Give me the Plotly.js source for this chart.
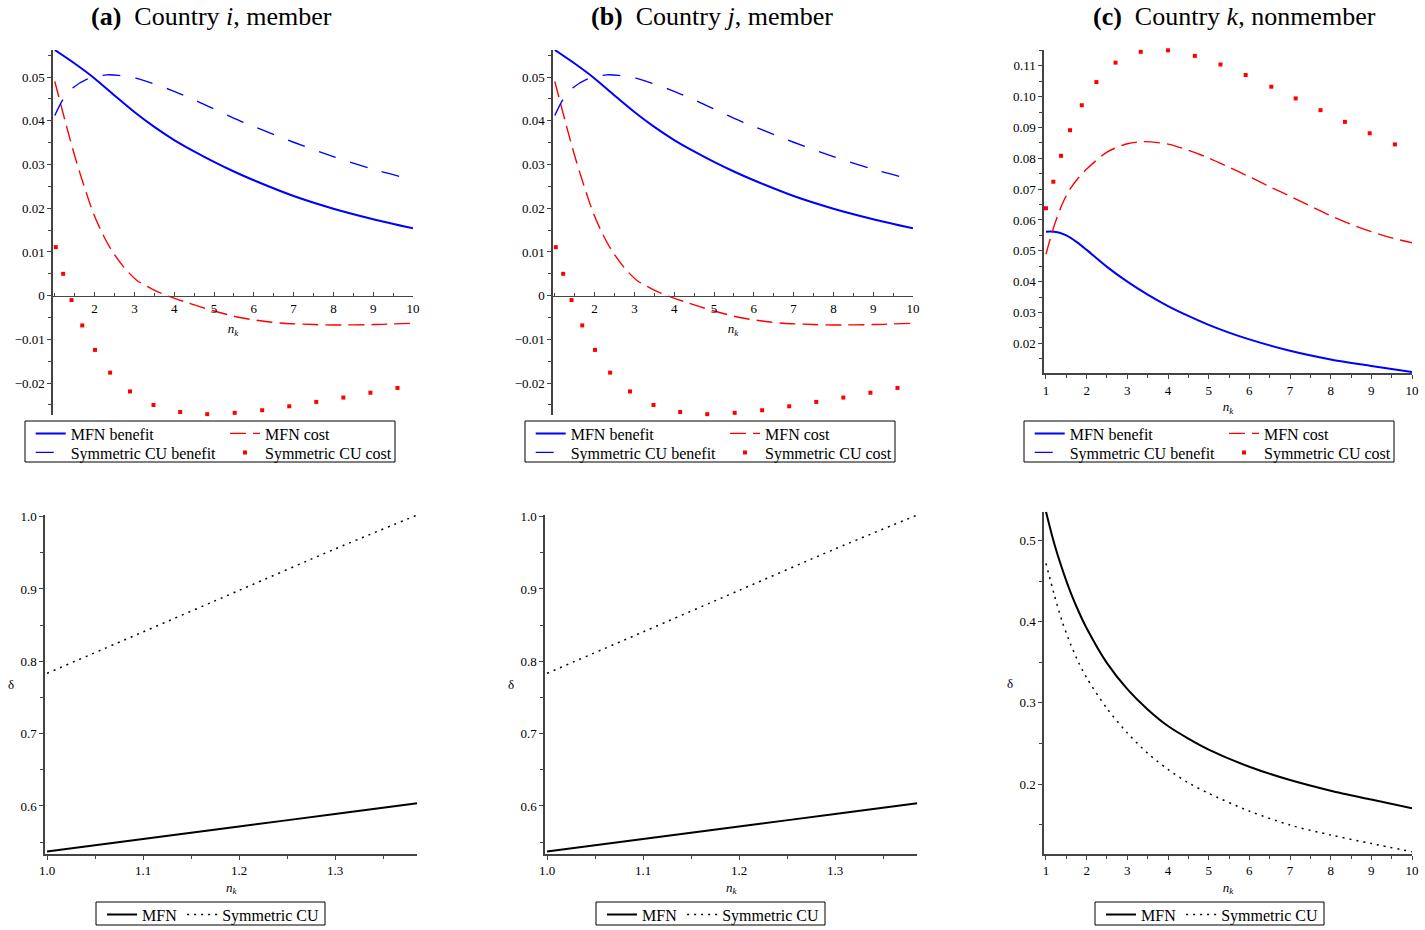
<!DOCTYPE html>
<html><head><meta charset="utf-8">
<script src="https://cdn.plot.ly/plotly-3.0.1.min.js"></script>
<style>html,body{margin:0;padding:0;background:#fff;} #chart{width:1425px;height:930px;}</style>
</head><body><div id="chart"></div>
<script>
// ---------------- DATA ----------------
// Panels (a) and (b): member countries (identical curves)
const mfnBenefitMemberX = [1, 1.5, 2, 2.5, 3, 3.5, 4, 4.5, 5, 5.5, 6, 7, 8, 9, 10];
const mfnBenefitMemberY = [0.0562, 0.0531, 0.0497, 0.0458, 0.0420, 0.0386, 0.0356, 0.0330, 0.0306, 0.0284, 0.0264, 0.0228, 0.0199, 0.0175, 0.0154];

const symBenefitMemberX = [1, 1.2, 1.45, 1.8, 2.3, 2.6, 3.1, 3.9, 4.6, 5.6, 6, 7, 8, 9, 10];
const symBenefitMemberY = [0.0412, 0.0448, 0.0475, 0.0495, 0.0505, 0.0504, 0.0496, 0.0471, 0.0444, 0.0402, 0.0387, 0.0351, 0.0318, 0.0289, 0.0265];

const mfnCostMemberX = [1, 1.126, 1.25, 1.377, 1.5, 1.63, 1.8, 1.96, 2.17, 2.42, 2.72, 3.05, 3.47, 3.85, 4.3, 4.64, 5.0, 5.65, 6.3, 6.74, 7.5, 8, 9, 10];
const mfnCostMemberY = [0.0490, 0.0446, 0.0403, 0.0360, 0.0320, 0.0281, 0.0233, 0.0191, 0.0147, 0.0105, 0.0067, 0.0036, 0.0014, -0.0001, -0.0015, -0.0025, -0.0035, -0.0050, -0.0059, -0.0063, -0.0066, -0.0067, -0.0066, -0.0063];

const symCostMemberX = [1.025, 1.21, 1.42, 1.69, 2.01, 2.39, 2.89, 3.48, 4.15, 4.83, 5.52, 6.21, 6.89, 7.57, 8.25, 8.93, 9.61];
const symCostMemberY = [0.0111, 0.0050, -0.0010, -0.0068, -0.0124, -0.0176, -0.0219, -0.0250, -0.0266, -0.0271, -0.0268, -0.0262, -0.0253, -0.0243, -0.0233, -0.0222, -0.0211];

// Panel (c): nonmember
const mfnBenefitNonX = [1, 1.1, 1.2, 1.35, 1.5, 1.75, 2, 2.5, 3, 3.5, 4, 4.5, 5, 5.5, 6, 7, 8, 9, 10];
const mfnBenefitNonY = [0.0562, 0.0563, 0.0562, 0.0558, 0.0550, 0.0529, 0.0503, 0.0448, 0.0400, 0.0358, 0.0321, 0.0289, 0.0260, 0.0235, 0.0213, 0.0176, 0.0148, 0.0127, 0.0107];

const symBenefitNonX = [null];   // not visible in the plotted range
const symBenefitNonY = [null];

const mfnCostNonX = [1, 1.1, 1.22, 1.4, 1.59, 1.8, 2, 2.5, 3, 3.4, 4, 4.5, 5, 5.5, 6, 6.5, 7, 7.5, 8, 8.5, 9, 9.5, 10];
const mfnCostNonY = [0.0489, 0.0537, 0.0589, 0.0652, 0.0700, 0.0737, 0.0765, 0.0820, 0.0847, 0.0854, 0.0846, 0.0826, 0.0801, 0.0771, 0.0740, 0.0708, 0.0677, 0.0645, 0.0614, 0.0586, 0.0562, 0.0542, 0.0526];

const symCostNonX = [1.0, 1.18, 1.37, 1.59, 1.88, 2.24, 2.71, 3.33, 4.0, 4.66, 5.29, 5.91, 6.54, 7.14, 7.75, 8.35, 8.96, 9.58];
const symCostNonY = [0.0638, 0.0724, 0.0808, 0.0891, 0.0972, 0.1047, 0.1110, 0.1145, 0.1150, 0.1132, 0.1104, 0.1070, 0.1032, 0.0994, 0.0956, 0.0918, 0.0881, 0.0845];

// Bottom row: critical discount factor delta
const deltaMemberX = [1.0, 1.1, 1.2, 1.3, 1.3857];
const deltaMfnMemberY = [0.5369, 0.5542, 0.5716, 0.5889, 0.6037];
const deltaSymMemberY = [0.7834, 0.8406, 0.8980, 0.9553, 1.0023];

const deltaNonX = [1, 1.2, 1.4, 1.6, 1.8, 2, 2.5, 3, 3.5, 4, 4.5, 5, 6, 7, 8, 9, 10];
const deltaMfnNonY = [0.5358, 0.4970, 0.4650, 0.4370, 0.4130, 0.3920, 0.3490, 0.3170, 0.2920, 0.2715, 0.2560, 0.2425, 0.2213, 0.2049, 0.1918, 0.1808, 0.1700];
const deltaSymNonY = [0.4721, 0.4340, 0.4000, 0.3730, 0.3500, 0.3310, 0.2930, 0.2630, 0.2380, 0.2180, 0.2015, 0.1885, 0.1666, 0.1494, 0.1371, 0.1266, 0.1165];

// Tick labels
const memberXTicks = [2, 3, 4, 5, 6, 7, 8, 9, 10];
const memberXTickText = ['2', '3', '4', '5', '6', '7', '8', '9', '10'];
const memberYTicks = [-0.02, -0.01, 0, 0.01, 0.02, 0.03, 0.04, 0.05];
const memberYTickText = ['\u22120.02', '\u22120.01', '0', '0.01', '0.02', '0.03', '0.04', '0.05'];
const nonXTicks = [1, 2, 3, 4, 5, 6, 7, 8, 9, 10];
const nonXTickText = ['1', '2', '3', '4', '5', '6', '7', '8', '9', '10'];
const nonYTicks = [0.02, 0.03, 0.04, 0.05, 0.06, 0.07, 0.08, 0.09, 0.10, 0.11];
const nonYTickText = ['0.02', '0.03', '0.04', '0.05', '0.06', '0.07', '0.08', '0.09', '0.10', '0.11'];
const deltaMemberXTicks = [1.0, 1.1, 1.2, 1.3];
const deltaMemberXTickText = ['1.0', '1.1', '1.2', '1.3'];
const deltaMemberYTicks = [0.6, 0.7, 0.8, 0.9, 1.0];
const deltaMemberYTickText = ['0.6', '0.7', '0.8', '0.9', '1.0'];
const deltaNonYTicks = [0.2, 0.3, 0.4, 0.5];
const deltaNonYTickText = ['0.2', '0.3', '0.4', '0.5'];

const panelTitles = ['<b>(a)</b>  Country <i>i</i>, member', '<b>(b)</b>  Country <i>j</i>, member', '<b>(c)</b>  Country <i>k</i>, nonmember'];
const seriesNames = ['MFN benefit', 'MFN cost', 'Symmetric CU benefit', 'Symmetric CU cost'];
const deltaNames = ['MFN', 'Symmetric CU'];

// ---------------- LAYOUT HELPERS ----------------
const W = 1425, H = 930;
const SERIF = 'Liberation Serif, Times New Roman, serif';
const PX = v => v / W;
const PY = v => 1 - v / H;
const BLUE = '#0000ff', RED = '#ff0000', AX = '#444';

function axis(o) {
  const base = {
    showgrid: false, zeroline: false, showline: true, linecolor: AX, linewidth: 1.6,
    ticks: 'outside', ticklen: 4, tickcolor: AX, tickwidth: 1,
    tickfont: { family: SERIF, size: 13, color: '#000' },
    tickmode: 'array', fixedrange: true
  };
  return Object.assign(base, o);
}
function minor(dt, dir) {
  return { ticks: dir || 'outside', ticklen: 3, tickcolor: AX, tickwidth: 1, tickmode: 'linear', tick0: 0, dtick: dt, showgrid: false };
}
const nkTitle = s => ({ text: '<i>n</i><sub><i>k</i></sub>', font: { family: SERIF, size: 13, color: '#000' }, standoff: s });

// ---------------- TRACES ----------------
const data = [];
const splineLine = (c, w, d) => ({ color: c, width: w, dash: d || 'solid', shape: 'spline', smoothing: 0.8 });
function memberTraces(xa, ya, l1, l2) {
  data.push({ x: mfnBenefitMemberX, y: mfnBenefitMemberY, xaxis: xa, yaxis: ya, mode: 'lines', line: splineLine(BLUE, 2), name: seriesNames[0], legend: l1 });
  data.push({ x: mfnCostMemberX, y: mfnCostMemberY, xaxis: xa, yaxis: ya, mode: 'lines', line: splineLine(RED, 1.4, '16px,7px'), name: seriesNames[1], legend: l1 });
  data.push({ x: symBenefitMemberX, y: symBenefitMemberY, xaxis: xa, yaxis: ya, mode: 'lines', line: splineLine(BLUE, 1.4, '18px,15px'), name: seriesNames[2], legend: l2 });
  data.push({ x: symCostMemberX, y: symCostMemberY, xaxis: xa, yaxis: ya, mode: 'markers', marker: { color: RED, size: 4, symbol: 'square' }, cliponaxis: false, name: seriesNames[3], legend: l2 });
}
memberTraces('x', 'y', 'legend', 'legend2');
memberTraces('x2', 'y2', 'legend3', 'legend4');

data.push({ x: mfnBenefitNonX, y: mfnBenefitNonY, xaxis: 'x3', yaxis: 'y3', mode: 'lines', line: splineLine(BLUE, 2), name: seriesNames[0], legend: 'legend5' });
data.push({ x: mfnCostNonX, y: mfnCostNonY, xaxis: 'x3', yaxis: 'y3', mode: 'lines', line: splineLine(RED, 1.4, '16px,7px'), name: seriesNames[1], legend: 'legend5' });
data.push({ x: symBenefitNonX, y: symBenefitNonY, xaxis: 'x3', yaxis: 'y3', mode: 'lines', line: { color: BLUE, width: 1.4, dash: '18px,15px' }, name: seriesNames[2], legend: 'legend6', showlegend: true });
data.push({ x: symCostNonX, y: symCostNonY, xaxis: 'x3', yaxis: 'y3', mode: 'markers', marker: { color: RED, size: 4, symbol: 'square' }, cliponaxis: false, name: seriesNames[3], legend: 'legend6' });

function deltaTraces(xa, ya, lg, xv, ym, ys) {
  data.push({ x: xv, y: ym, xaxis: xa, yaxis: ya, mode: 'lines', line: splineLine('#000', 2), name: deltaNames[0], legend: lg });
  data.push({ x: xv, y: ys, xaxis: xa, yaxis: ya, mode: 'lines', line: splineLine('#000', 1.5, '2px,5px'), name: deltaNames[1], legend: lg });
}
deltaTraces('x4', 'y4', 'legend7', deltaMemberX, deltaMfnMemberY, deltaSymMemberY);
deltaTraces('x5', 'y5', 'legend8', deltaMemberX, deltaMfnMemberY, deltaSymMemberY);
deltaTraces('x6', 'y6', 'legend9', deltaNonX, deltaMfnNonY, deltaSymNonY);

// ---------------- AXES ----------------
const memberYRange = [-0.0272, 0.0562];
const topMemberYDom = [PY(414.6), PY(50)];
const zeroPos = topMemberYDom[0] + (0 - memberYRange[0]) / (memberYRange[1] - memberYRange[0]) * (topMemberYDom[1] - topMemberYDom[0]);

function memberX(left) {
  return axis({ domain: [PX(left), PX(left + 360)], range: [0.955, 10], anchor: 'free', position: zeroPos,
    tickvals: memberXTicks, ticktext: memberXTickText, ticks: 'inside', minor: minor(0.5, 'inside'), title: nkTitle(9) });
}
function memberY(xa) {
  return axis({ domain: topMemberYDom, range: memberYRange, anchor: xa, tickvals: memberYTicks, ticktext: memberYTickText, minor: minor(0.005) });
}
const bottomDom = [PY(854), PY(515)];
function deltaMemberXAx(left, ya) {
  return axis({ domain: [PX(left), PX(left + 372.3)], range: [0.9979, 1.3857], anchor: ya,
    tickvals: deltaMemberXTicks, ticktext: deltaMemberXTickText, minor: minor(0.05), title: nkTitle(5) });
}
function deltaMemberYAx(xa) {
  return axis({ domain: bottomDom, range: [0.5336, 1.0023], anchor: xa, tickvals: deltaMemberYTicks, ticktext: deltaMemberYTickText, minor: minor(0.05) });
}

const layout = {
  width: W, height: H, margin: { l: 0, r: 0, t: 0, b: 0, autoexpand: false },
  paper_bgcolor: '#fff', plot_bgcolor: '#fff', hovermode: false,
  font: { family: SERIF, color: '#000' },
  xaxis: memberX(53), yaxis: memberY('x'),
  xaxis2: memberX(553), yaxis2: memberY('x2'),
  xaxis3: axis({ domain: [PX(1044), PX(1412)], range: [0.951, 10], anchor: 'y3', tickvals: nonXTicks, ticktext: nonXTickText, minor: minor(0.5), title: nkTitle(5) }),
  yaxis3: axis({ domain: [PY(373.3), PY(50)], range: [0.0103, 0.1151], anchor: 'x3', tickvals: nonYTicks, ticktext: nonYTickText, minor: minor(0.005) }),
  xaxis4: deltaMemberXAx(45, 'y4'), yaxis4: deltaMemberYAx('x4'),
  xaxis5: deltaMemberXAx(545, 'y5'), yaxis5: deltaMemberYAx('x5'),
  xaxis6: axis({ domain: [PX(1044), PX(1412)], range: [0.951, 10], anchor: 'y6', tickvals: nonXTicks, ticktext: nonXTickText, minor: minor(0.5), title: nkTitle(5) }),
  yaxis6: axis({ domain: [PY(854), PY(511.7)], range: [0.1137, 0.5358], anchor: 'x6', tickvals: deltaNonYTicks, ticktext: deltaNonYTickText, minor: minor(0.05) }),
  annotations: [], shapes: []
};

// legends
const legFont = { family: SERIF, size: 16, color: '#000' };
function leg(xpx, ypx, ew) {
  const l = { x: PX(xpx), y: PY(ypx), xanchor: 'left', yanchor: 'top', orientation: 'h', bgcolor: 'rgba(0,0,0,0)',
    borderwidth: 0, font: legFont, traceorder: 'normal', itemclick: false, itemdoubleclick: false };
  if (ew) { l.entrywidth = ew; l.entrywidthmode = 'pixels'; }
  return l;
}
const offsets = [0, 500, 999];
const topLegIds = [['legend', 'legend2'], ['legend3', 'legend4'], ['legend5', 'legend6']];
offsets.forEach((o, i) => {
  layout[topLegIds[i][0]] = leg(30.7 + o, 416.5, 149.3);
  layout[topLegIds[i][1]] = leg(30.7 + o, 435.5, 149.3);
  layout.shapes.push({ type: 'rect', xref: 'paper', yref: 'paper', x0: PX(25 + o), x1: PX(395 + o), y0: PY(462), y1: PY(421), line: { color: '#000', width: 1 } });
});
const botLegIds = ['legend7', 'legend8', 'legend9'];
offsets.forEach((o, i) => {
  layout[botLegIds[i]] = leg(102 + o, 897.5, 0);
  layout.shapes.push({ type: 'rect', xref: 'paper', yref: 'paper', x0: PX(96 + o), x1: PX(325 + o), y0: PY(925), y1: PY(902), line: { color: '#000', width: 1 } });
});

// titles
const titleX = [211.5, 712, 1234];
panelTitles.forEach((t, i) => layout.annotations.push({ text: t, xref: 'paper', yref: 'paper', x: PX(titleX[i]), y: 1, xanchor: 'center', yanchor: 'top', showarrow: false, font: { family: SERIF, size: 26, color: '#000' } }));
// delta labels
[[11, 684], [511, 684], [1010, 683]].forEach(p => layout.annotations.push({ text: '\u03b4', xref: 'paper', yref: 'paper', x: PX(p[0]), y: PY(p[1]), xanchor: 'center', yanchor: 'middle', showarrow: false, font: { family: SERIF, size: 13, color: '#000' } }));

Plotly.newPlot('chart', data, layout, { staticPlot: true, displayModeBar: false });
</script></body></html>
